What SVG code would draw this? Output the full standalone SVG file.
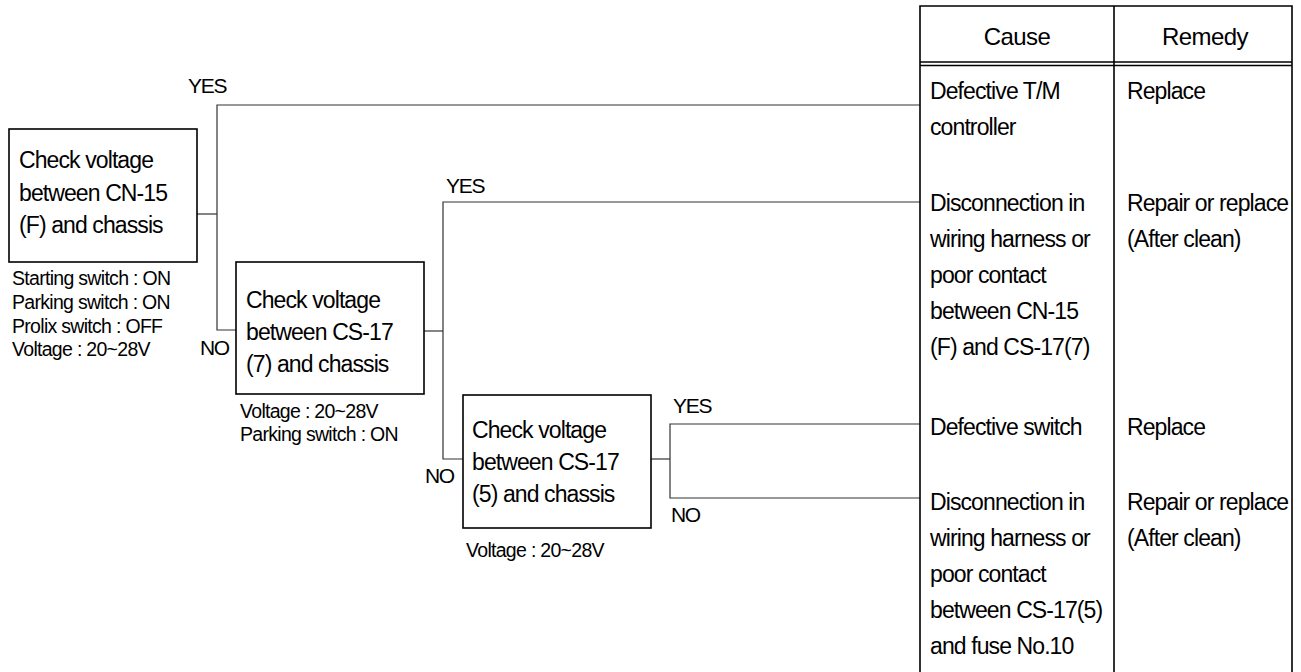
<svg xmlns="http://www.w3.org/2000/svg" width="1301" height="672" viewBox="0 0 1301 672">
<style>
text{font-family:"Liberation Sans",Arial,sans-serif;fill:#000}
.bx{font-size:23px;letter-spacing:-0.9px}
.tb{font-size:23px;letter-spacing:-0.9px}
.hd{font-size:24px;letter-spacing:-0.6px}
.nt{font-size:19.5px;letter-spacing:-0.7px}
.lb{font-size:21px;letter-spacing:-1.3px}
.box{fill:#fff;stroke:#000;stroke-width:1.6}
.ln{fill:none;stroke:#333;stroke-width:1.2}
.tl{fill:none;stroke:#000;stroke-width:1.6}
</style>
<rect width="1301" height="672" fill="#fff"/>
<g id="connectors">
<polyline class="ln" points="197,214 217,214"/>
<polyline class="ln" points="920,105 217,105 217,330 236,330"/>
<polyline class="ln" points="424,331 443,331"/>
<polyline class="ln" points="920,202 443,202 443,459 463,459"/>
<polyline class="ln" points="651,459 670,459"/>
<polyline class="ln" points="920,424 670,424 670,498 920,498"/>
<text class="lb" x="188" y="93">YES</text>
<text class="lb" x="200" y="355">NO</text>
<text class="lb" x="446" y="193">YES</text>
<text class="lb" x="425" y="483">NO</text>
<text class="lb" x="673" y="413">YES</text>
<text class="lb" x="671" y="522">NO</text>
</g>
<g id="node1">
<rect class="box" x="9" y="129" width="188" height="133"/>
<text class="bx" x="19" y="168">Check voltage</text>
<text class="bx" x="19" y="201">between CN-15</text>
<text class="bx" x="19" y="233">(F) and chassis</text>
<text class="nt" x="12" y="285">Starting switch : ON</text>
<text class="nt" x="12" y="309">Parking switch : ON</text>
<text class="nt" x="12" y="333">Prolix switch : OFF</text>
<text class="nt" x="12" y="356">Voltage : 20~28V</text>
</g>
<g id="node2">
<rect class="box" x="236" y="262" width="188" height="132"/>
<text class="bx" x="246" y="308">Check voltage</text>
<text class="bx" x="246" y="340">between CS-17</text>
<text class="bx" x="246" y="372">(7) and chassis</text>
<text class="nt" x="240" y="418">Voltage : 20~28V</text>
<text class="nt" x="240" y="441">Parking switch : ON</text>
</g>
<g id="node3">
<rect class="box" x="463" y="395" width="188" height="133"/>
<text class="bx" x="472" y="438">Check voltage</text>
<text class="bx" x="472" y="470">between CS-17</text>
<text class="bx" x="472" y="502">(5) and chassis</text>
<text class="nt" x="466" y="557">Voltage : 20~28V</text>
</g>
<g id="table">
<polyline class="tl" points="920,672 920,6 1292,6 1292,672"/>
<line class="tl" x1="1114" y1="6" x2="1114" y2="672"/>
<line class="tl" x1="920" y1="62" x2="1292" y2="62" stroke-width="1.2"/>
<line class="tl" x1="920" y1="65.5" x2="1292" y2="65.5" stroke-width="1.2"/>
<text class="hd" x="1017" y="45" text-anchor="middle">Cause</text>
<text class="hd" x="1205" y="45" text-anchor="middle">Remedy</text>
<text class="tb" x="930" y="99">Defective T/M</text>
<text class="tb" x="930" y="135">controller</text>
<text class="tb" x="1127" y="99">Replace</text>
<text class="tb" x="930" y="211">Disconnection in</text>
<text class="tb" x="930" y="247">wiring harness or</text>
<text class="tb" x="930" y="283">poor contact</text>
<text class="tb" x="930" y="319">between CN-15</text>
<text class="tb" x="930" y="355">(F) and CS-17(7)</text>
<text class="tb" x="1127" y="211">Repair or replace</text>
<text class="tb" x="1127" y="247">(After clean)</text>
<text class="tb" x="930" y="435">Defective switch</text>
<text class="tb" x="1127" y="435">Replace</text>
<text class="tb" x="930" y="510">Disconnection in</text>
<text class="tb" x="930" y="546">wiring harness or</text>
<text class="tb" x="930" y="582">poor contact</text>
<text class="tb" x="930" y="618">between CS-17(5)</text>
<text class="tb" x="930" y="654">and fuse No.10</text>
<text class="tb" x="1127" y="510">Repair or replace</text>
<text class="tb" x="1127" y="546">(After clean)</text>
</g>
</svg>
